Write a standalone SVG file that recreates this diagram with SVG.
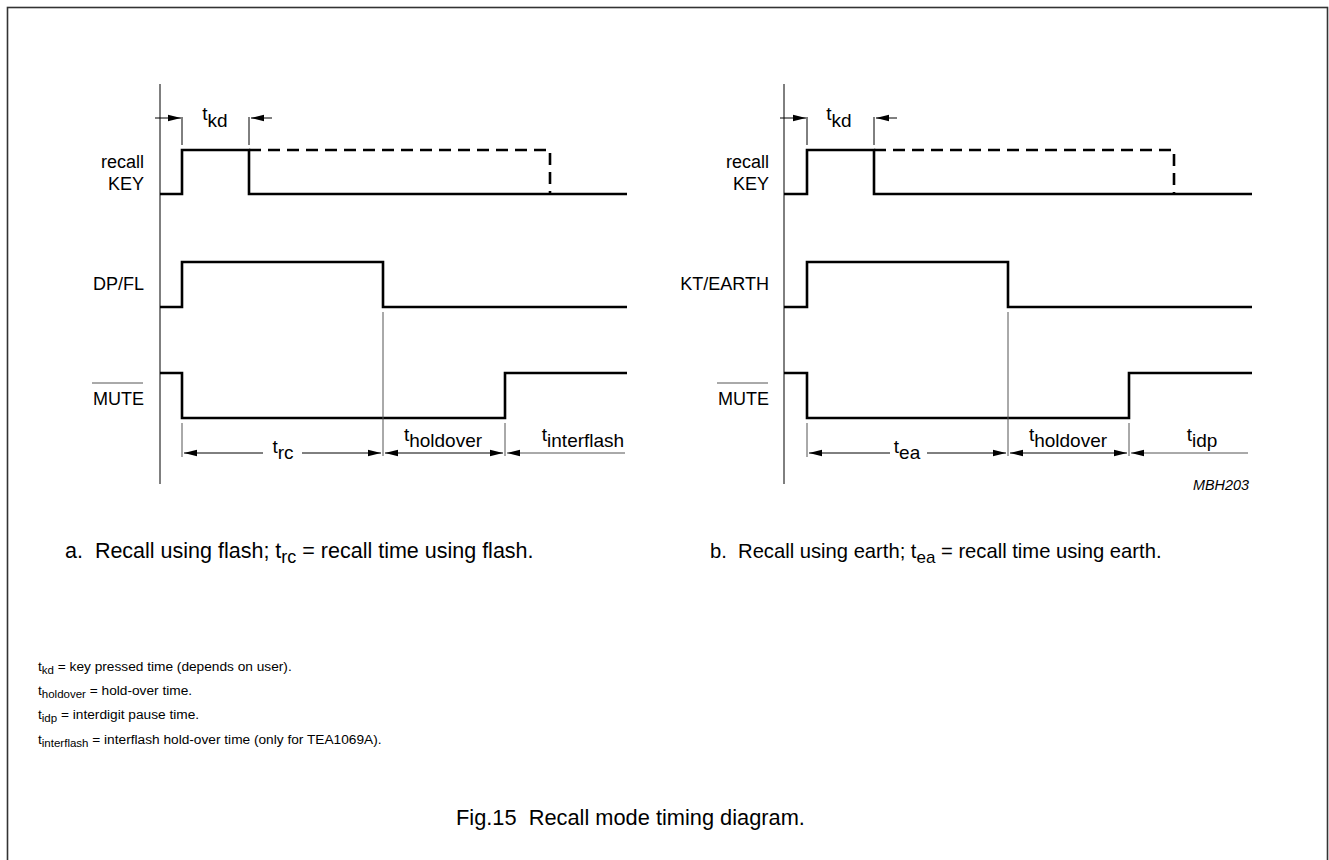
<svg xmlns="http://www.w3.org/2000/svg" width="1329" height="860" viewBox="0 0 1329 860">
<defs>
<style>
text{font-family:"Liberation Sans",Arial,sans-serif;fill:#000}
.lbl{font-size:18px;text-anchor:end}
.dim{font-size:19px;text-anchor:middle}
.fig{font-size:21.8px}
.note{font-size:13.7px}
.sig{fill:none;stroke:#000;stroke-width:2.6}
.dash{fill:none;stroke:#000;stroke-width:2.6;stroke-dasharray:12,7}
.thin{fill:none;stroke:#000;stroke-width:1}
.grey{fill:none;stroke:#555;stroke-width:1}
</style>
<marker id="ah" markerWidth="14" markerHeight="8" refX="13" refY="4" orient="auto-start-reverse" markerUnits="userSpaceOnUse">
<path d="M0,0.8 L13,4 L0,7.2 Z" fill="#000"/>
</marker>
</defs>
<rect x="0" y="0" width="1329" height="860" fill="#fff"/>
<rect x="7.5" y="7.5" width="1320" height="870" fill="none" stroke="#333" stroke-width="1.6"/>

<g id="panel-a">
<g id="a-axis"><line class="thin" x1="160" y1="84" x2="160" y2="484"/></g>
<g id="a-key">
<text class="lbl" x="144" y="168">recall</text>
<text class="lbl" x="144" y="190">KEY</text>
<polyline class="sig" points="160,194 182,194 182,150 249,150 249,194 627,194"/>
<polyline class="dash" points="249,150 550,150 550,194"/>
</g>
<g id="a-dpfl">
<text class="lbl" x="144" y="290">DP/FL</text>
<polyline class="sig" points="160,307 182,307 182,262 383,262 383,307 627,307"/>
</g>
<g id="a-mute">
<text class="lbl" x="144" y="405">MUTE</text>
<line class="grey" x1="92" y1="383" x2="143" y2="383"/>
<polyline class="sig" points="160,373 182,373 182,418 505,418 505,373 627,373"/>
</g>
<g id="a-labels">
<text class="dim" x="215" y="120">t<tspan dy="7">kd</tspan></text>
<text class="dim" x="283" y="453">t<tspan dy="6">rc</tspan></text>
<text class="dim" x="443" y="441">t<tspan dy="6">holdover</tspan></text>
<text class="dim" x="583" y="441">t<tspan dy="6">interflash</tspan></text>
</g>
</g>

<g id="panel-b">
<g id="b-axis"><line class="thin" x1="784" y1="84" x2="784" y2="484"/></g>
<g id="b-key">
<text class="lbl" x="769" y="168">recall</text>
<text class="lbl" x="769" y="190">KEY</text>
<polyline class="sig" points="784,194 807,194 807,150 874,150 874,194 1252,194"/>
<polyline class="dash" points="874,150 1174,150 1174,194"/>
</g>
<g id="b-kt">
<text class="lbl" x="769" y="290">KT/EARTH</text>
<polyline class="sig" points="784,307 807,307 807,262 1008,262 1008,307 1252,307"/>
</g>
<g id="b-mute">
<text class="lbl" x="769" y="405">MUTE</text>
<line class="grey" x1="717" y1="383" x2="768" y2="383"/>
<polyline class="sig" points="784,373 807,373 807,418 1129,418 1129,373 1252,373"/>
</g>
<g id="b-labels">
<text class="dim" x="839" y="120">t<tspan dy="7">kd</tspan></text>
<text class="dim" x="907" y="453">t<tspan dy="6">ea</tspan></text>
<text class="dim" x="1068" y="441">t<tspan dy="6">holdover</tspan></text>
<text class="dim" x="1202" y="441">t<tspan dy="6">idp</tspan></text>
<text x="1249" y="490" font-size="14.4" font-style="italic" text-anchor="end">MBH203</text>
</g>
</g>

<g id="connectors">
<line class="thin" x1="182" y1="117" x2="182" y2="145"/>
<line class="thin" x1="249" y1="117" x2="249" y2="145"/>
<line class="thin" x1="155" y1="118" x2="181" y2="118" marker-end="url(#ah)"/>
<line class="thin" x1="272" y1="118" x2="251" y2="118" marker-end="url(#ah)"/>
<line class="grey" x1="182" y1="423" x2="182" y2="457"/>
<line class="grey" x1="383" y1="312" x2="383" y2="456"/>
<line class="grey" x1="505" y1="423" x2="505" y2="456"/>
<line class="thin" x1="263" y1="453" x2="184" y2="453" marker-end="url(#ah)"/>
<line class="thin" x1="302" y1="453" x2="381" y2="453" marker-end="url(#ah)"/>
<line class="thin" x1="385" y1="453" x2="503" y2="453" marker-start="url(#ah)" marker-end="url(#ah)"/>
<line class="grey" x1="625" y1="453" x2="507" y2="453" marker-end="url(#ah)"/>
<line class="thin" x1="807" y1="117" x2="807" y2="145"/>
<line class="thin" x1="874" y1="117" x2="874" y2="145"/>
<line class="thin" x1="780" y1="118" x2="806" y2="118" marker-end="url(#ah)"/>
<line class="thin" x1="897" y1="118" x2="876" y2="118" marker-end="url(#ah)"/>
<line class="grey" x1="807" y1="423" x2="807" y2="457"/>
<line class="grey" x1="1008" y1="312" x2="1008" y2="456"/>
<line class="grey" x1="1129" y1="423" x2="1129" y2="456"/>
<line class="thin" x1="890" y1="453" x2="809" y2="453" marker-end="url(#ah)"/>
<line class="thin" x1="927" y1="453" x2="1006" y2="453" marker-end="url(#ah)"/>
<line class="thin" x1="1010" y1="453" x2="1127" y2="453" marker-start="url(#ah)" marker-end="url(#ah)"/>
<line class="grey" x1="1248" y1="453" x2="1131" y2="453" marker-end="url(#ah)"/>
</g>

<g id="captions">
<text x="65" y="558" font-size="21.5" xml:space="preserve">a.  Recall using flash; t<tspan dy="5" font-size="18">rc</tspan><tspan dy="-5"> = recall time using flash.</tspan></text>
<text x="710" y="558" font-size="20.2" xml:space="preserve">b.  Recall using earth; t<tspan dy="5" font-size="17">ea</tspan><tspan dy="-5"> = recall time using earth.</tspan></text>
<text class="note" x="38" y="671">t<tspan dy="3" font-size="11.5">kd</tspan><tspan dy="-3"> = key pressed time (depends on user).</tspan></text>
<text class="note" x="38" y="695">t<tspan dy="3" font-size="11.5">holdover</tspan><tspan dy="-3"> = hold-over time.</tspan></text>
<text class="note" x="38" y="719">t<tspan dy="3" font-size="11.5">idp</tspan><tspan dy="-3"> = interdigit pause time.</tspan></text>
<text class="note" x="38" y="744">t<tspan dy="3" font-size="11.5">interflash</tspan><tspan dy="-3"> = interflash hold-over time (only for TEA1069A).</tspan></text>
<text class="fig" x="456" y="825" xml:space="preserve">Fig.15  Recall mode timing diagram.</text>
</g>
</svg>
